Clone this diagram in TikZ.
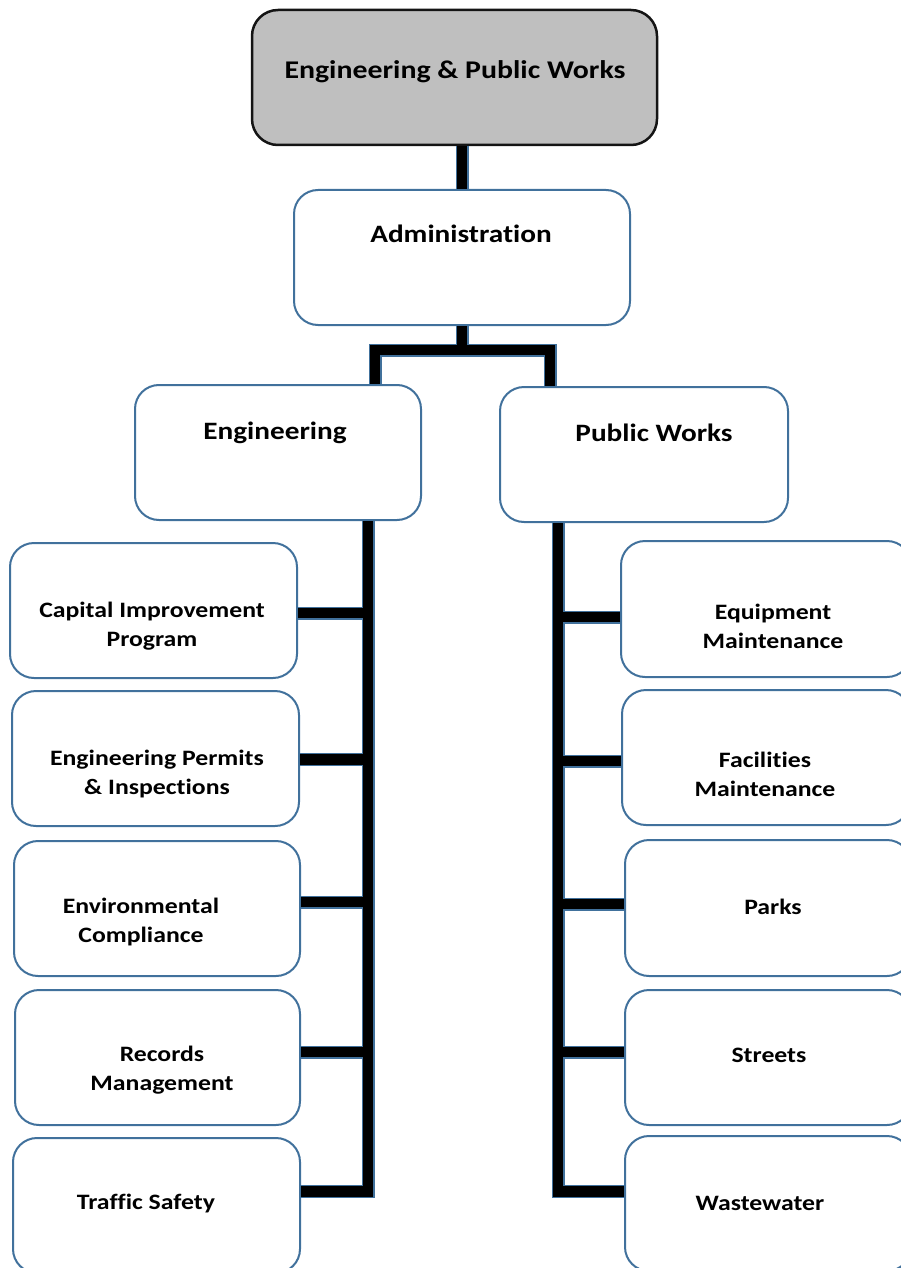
\documentclass[tikz,border=0pt]{standalone}
\usepackage{fontspec}
\setmainfont{Carlito}[FakeStretch=1.17, Ligatures=NoCommon]
\usetikzlibrary{calc}
\definecolor{bord}{RGB}{65,113,156}
\definecolor{topfill}{RGB}{191,191,191}
\definecolor{topline}{RGB}{20,20,20}
\begin{document}
\begin{tikzpicture}[x=1pt,y=-1pt,
  box/.style={draw=bord, line width=2pt, rounded corners=24pt, fill=white, inner sep=0pt},
  topbox/.style={draw=topline, line width=2.5pt, rounded corners=26pt, fill=topfill, inner sep=0pt},
  bigtxt/.style={font=\fontsize{25.5}{30}\selectfont\bfseries, align=center, inner sep=0pt},
  midtxt/.style={font=\fontsize{25}{30}\selectfont\bfseries, align=center, inner sep=0pt},
  smalltxt/.style={font=\fontsize{22}{29}\selectfont\bfseries, align=center, inner sep=0pt},
  wireback/.style={draw=bord, line width=13pt, line cap=butt, line join=miter},
  wirefront/.style={draw=black, line width=10.5pt, line cap=butt, line join=miter}]
\useasboundingbox (0,0) rectangle (901,1268);
\clip (0,0) rectangle (901,1268);

% boxes
\node[topbox, minimum width=405pt, minimum height=135pt] (top) at (454.5,77.5) {};
\node[box, minimum width=336pt, minimum height=135pt] (admin) at (462,257.5) {};
\node[box, minimum width=286pt, minimum height=135pt] (eng) at (278,452.5) {};
\node[box, minimum width=288pt, minimum height=135pt] (pw) at (644,454.5) {};

\node[box, minimum width=287pt, minimum height=135pt] (cap) at (153.5,610.5) {};
\node[box, minimum width=287pt, minimum height=135pt] (per) at (155.5,758.5) {};
\node[box, minimum width=286pt, minimum height=135pt] (env) at (157,908.5) {};
\node[box, minimum width=285pt, minimum height=135pt] (rec) at (157.5,1057.5) {};
\node[box, minimum width=287pt, minimum height=135pt] (ts) at (156.5,1205.5) {};

\node[box, minimum width=290pt, minimum height=136pt] (eq) at (766,609) {};
\node[box, minimum width=288pt, minimum height=135pt] (fac) at (766,757.5) {};
\node[box, minimum width=286pt, minimum height=136pt] (parks) at (768,908) {};
\node[box, minimum width=286pt, minimum height=135pt] (streets) at (768,1057.5) {};
\node[box, minimum width=286pt, minimum height=135pt] (ww) at (768,1203.5) {};

% texts
\node[bigtxt] (topt) at (455,72) {Engineering \& Public Works};
\node[midtxt] (admint) at (461,234) {Administration};
\node[midtxt] (engt) at (275,433) {Engineering};
\node[midtxt] (pwt) at (654,433) {Public Works};

\node[smalltxt] (capt) at (152,626) {Capital Improvement\\Program};
\node[smalltxt] (pert) at (157,774) {Engineering Permits\\\& Inspections};
\node[smalltxt] (envt) at (141,922) {Environmental\\Compliance};
\node[smalltxt] (rect) at (162,1070) {Records\\Management};
\node[smalltxt] (tst) at (146,1203) {Traffic Safety};

\node[smalltxt] (eqt) at (773,626) {Equipment\\Maintenance};
\node[smalltxt] (fact) at (765,774) {Facilities\\Maintenance};
\node[smalltxt] (parkst) at (773,907) {Parks};
\node[smalltxt] (streetst) at (769,1055) {Streets};
\node[smalltxt] (wwt) at (760,1203) {Wastewater};

% connectors
\coordinate (hb) at (462,350);
\coordinate (lb) at (368,1191.5);
\coordinate (rb) at (558,1191.5);
\def\wires{
  (top.south -| 462,0) -- (admin.north -| 462,0)
  (admin.south -| 462,0) -- (hb)
  (eng.north -| 375,0) |- (hb) -| (pw.north -| 550,0)
  (eng.south -| 368,0) -- (lb) -- (ts.east |- lb)
  (pw.south -| 558,0) -- (rb) -- (ww.west |- rb)
  (cap.east |- 0,613) -- (368,613)
  (per.east |- 0,759.5) -- (368,759.5)
  (env.east |- 0,902) -- (368,902)
  (rec.east |- 0,1052) -- (368,1052)
  (eq.west |- 0,617) -- (558,617)
  (fac.west |- 0,761) -- (558,761)
  (parks.west |- 0,904) -- (558,904)
  (streets.west |- 0,1052) -- (558,1052)
}
\draw[wireback] \wires;
\draw[wirefront] \wires;
\end{tikzpicture}
\end{document}
